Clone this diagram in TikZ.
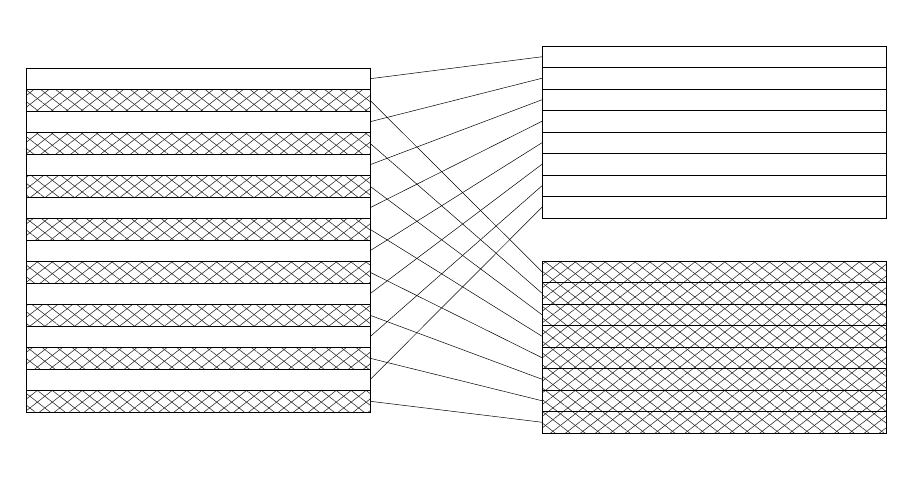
\documentclass[tikz,border=0pt]{standalone}
\usetikzlibrary{positioning,patterns.meta}

\tikzset{
  row/.style={draw, rectangle, minimum width=344pt, minimum height=21.5pt,
    inner sep=0pt, outer sep=0pt},
  hatchrow/.style={row,
    preaction={pattern={Lines[angle=38,distance=9.2pt,line width=0.55pt]},pattern color=black!85},
    pattern={Lines[angle=-38,distance=9.2pt,line width=0.55pt]}, pattern color=black!85},
}

\begin{document}
\begin{tikzpicture}[x=1pt, y=-1pt, line width=0.5pt]
  \useasboundingbox (0,0) rectangle (920,478);
  % left stack: plain and hatched rows alternate
  \foreach \k in {0,...,15} {
    \pgfmathtruncatemacro{\odd}{mod(\k,2)}
    \ifnum\odd=0
      \node[row] (L\k) at (198, 78.75+21.5*\k) {};
    \else
      \node[hatchrow] (L\k) at (198, 78.75+21.5*\k) {};
    \fi
  }
  % right stacks
  \foreach \i in {0,...,7} {
    \node[row] (T\i) at (714, 56.75+21.5*\i) {};
    \node[hatchrow] (B\i) at (714, 271.75+21.5*\i) {};
  }
  % connectors
  \foreach \i in {0,...,7} {
    \pgfmathtruncatemacro{\pl}{2*\i}
    \pgfmathtruncatemacro{\hl}{2*\i+1}
    \draw (L\pl.east) -- (T\i.west);
    \draw (L\hl.east) -- (B\i.west);
  }
\end{tikzpicture}
\end{document}
